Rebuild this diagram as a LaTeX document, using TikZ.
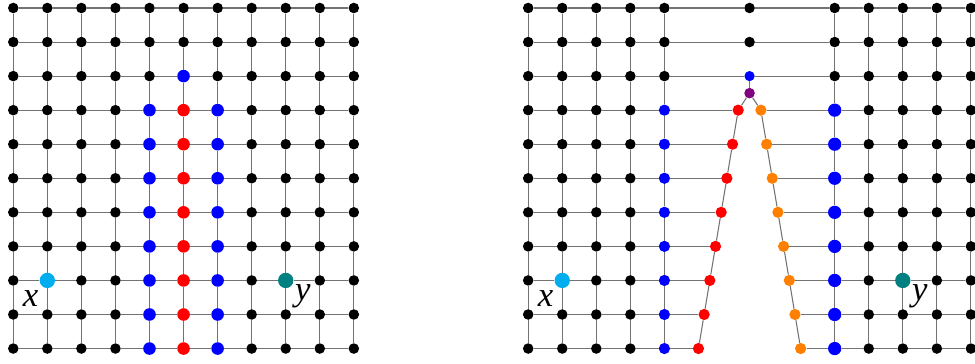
\documentclass[tikz,border=0pt]{standalone}
\usepackage{fontspec}
\setmainfont{Liberation Serif}
\definecolor{skyblue}{RGB}{0,174,239}
\definecolor{darkteal}{RGB}{0,128,128}
\definecolor{plum}{RGB}{128,0,128}
\tikzset{
  edge/.style={draw=gray!90!black, line width=0.9pt},
  dot/.style={circle, fill=black, inner sep=0pt, minimum size=0.31cm},
  cutdot/.style={dot, fill=blue, minimum size=0.37cm},
  reddot/.style={dot, fill=red, minimum size=0.37cm},
  xdot/.style={dot, fill=skyblue, minimum size=0.45cm},
  ydot/.style={dot, fill=darkteal, minimum size=0.45cm},
  lcut/.style={dot, fill=blue, minimum size=0.33cm},
  rcut/.style={dot, fill=blue, minimum size=0.39cm},
  topcut/.style={dot, fill=blue, minimum size=0.30cm},
  tipdot/.style={dot, fill=plum, minimum size=0.31cm},
  lside/.style={dot, fill=red, minimum size=0.33cm},
  rside/.style={dot, fill=orange, minimum size=0.33cm},
  lab/.style={inner sep=0pt, font=\fontsize{29}{31}\selectfont\itshape}
}
\begin{document}
\begin{tikzpicture}[x=1cm,y=1cm]
\useasboundingbox (-0.39,-0.43) rectangle (28.24,10.235);
% left grid
\foreach \c in {0,...,10}
  \foreach \r in {0,...,10} {
    \def\sty{dot}
    \ifnum\r>2 \ifnum\c=4 \def\sty{cutdot}\fi \ifnum\c=6 \def\sty{cutdot}\fi \ifnum\c=5 \def\sty{reddot}\fi\fi
    \ifnum\r=2 \ifnum\c=5 \def\sty{cutdot}\fi\fi
    \ifnum\r=8 \ifnum\c=1 \def\sty{xdot}\fi \ifnum\c=8 \def\sty{ydot}\fi\fi
    \node[\sty] (L-\c-\r) at (\c,10-\r) {};
  }
\foreach \c in {0,...,10}
  \foreach \r [count=\s] in {0,...,9} {
    \draw[edge] (L-\c-\r) -- (L-\c-\s);
    \draw[edge] (L-\r-\c) -- (L-\s-\c);
  }
\node[lab] (lx) at ([shift={(-0.49,-0.54)}]L-1-8) {x};
\node[lab] (ly) at ([shift={(0.5,-0.47)}]L-8-8) {y};
% right grid, cut open along the middle column
\foreach \c in {0,...,4,6,7,...,10}
  \foreach \r in {0,...,10} {
    \def\sty{dot}
    \ifnum\r>2 \ifnum\c=4 \def\sty{lcut}\fi \ifnum\c=6 \def\sty{rcut}\fi\fi
    \ifnum\r=8 \ifnum\c=1 \def\sty{xdot}\fi \ifnum\c=8 \def\sty{ydot}\fi\fi
    \ifnum\c<5 \node[\sty] (R-\c-\r) at (15.12+\c,10-\r) {};
    \else \node[\sty] (R-\c-\r) at (18.12+\c,10-\r) {};\fi
  }
\node[dot] (R-5-0) at (21.62,10) {};
\node[dot] (R-5-1) at (21.62,9) {};
\node[topcut] (R-5-2) at (21.62,8) {};
\node[tipdot] (tip) at (21.62,7.5) {};
\foreach \r in {3,...,10} {
  \node[lside] (Rl-\r) at ({21.62-(\r-1)/6},10-\r) {};
  \node[rside] (Ro-\r) at ({21.62+(\r-1)/6},10-\r) {};
}
\foreach \c in {0,...,4,6,7,...,10}
  \foreach \r [count=\s] in {0,...,9}
    \draw[edge] (R-\c-\r) -- (R-\c-\s);
\foreach \r in {0,1,2}
  \foreach \c [count=\d] in {0,...,9}
    \draw[edge] (R-\c-\r) -- (R-\d-\r);
\foreach \r in {3,...,10} {
  \foreach \c in {0,...,3,6,7,8,9}
    \draw[edge] (R-\c-\r) -- (R-\the\numexpr\c+1\relax-\r);
  \draw[edge] (R-4-\r) -- (Rl-\r);
  \draw[edge] (Ro-\r) -- (R-6-\r);
}
\draw[edge] (R-5-2) -- (tip);
\draw[edge] (tip) -- (Rl-3);
\draw[edge] (tip) -- (Ro-3);
\foreach \r [count=\s from 4] in {3,...,9} {
  \draw[edge] (Rl-\r) -- (Rl-\s);
  \draw[edge] (Ro-\r) -- (Ro-\s);
}
\node[lab] (rx) at ([shift={(-0.49,-0.54)}]R-1-8) {x};
\node[lab] (ry) at ([shift={(0.5,-0.47)}]R-8-8) {y};
\end{tikzpicture}
\end{document}
